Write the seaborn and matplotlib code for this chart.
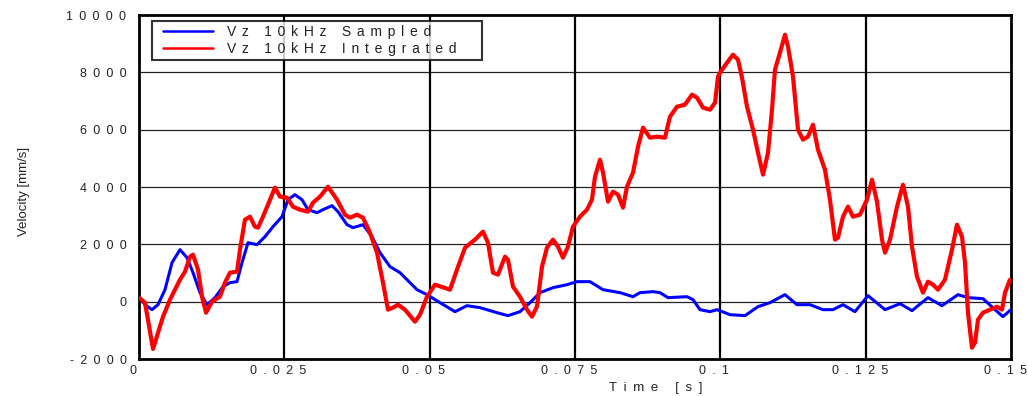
import numpy as np
import pandas as pd
import matplotlib
matplotlib.use("Agg")
import matplotlib.pyplot as plt
import matplotlib.transforms as mtransforms
import seaborn as sns
from matplotlib.lines import Line2D
from matplotlib.legend_handler import HandlerLine2D

# ---- data (time in s, velocity in mm/s) ----
t_int = [0.0, 0.00103, 0.00241, 0.00413, 0.00533, 0.00705, 0.00791, 0.00877, 0.00929, 0.01015,
         0.01084, 0.01153, 0.01256, 0.01393, 0.01479, 0.01565, 0.01686, 0.01737, 0.01823, 0.01909,
         0.01995, 0.02047, 0.02133, 0.02253, 0.02339, 0.02425, 0.02546, 0.02649, 0.02769, 0.02907,
         0.02993, 0.03113, 0.03251, 0.03406, 0.03543, 0.03629, 0.03750, 0.03853, 0.03973, 0.04094,
         0.04197, 0.04283, 0.04369, 0.04455, 0.04575, 0.04747, 0.04834, 0.04954, 0.05092, 0.05350,
         0.05470, 0.05608, 0.05780, 0.05917, 0.06003, 0.06089, 0.06175, 0.06296, 0.06347, 0.06433,
         0.06554, 0.06674, 0.06760, 0.06846, 0.06932, 0.07018, 0.07121, 0.07207, 0.07293, 0.07379,
         0.07465, 0.07586, 0.07706, 0.07792, 0.07844, 0.07930, 0.07982, 0.08068, 0.08154, 0.08240,
         0.08326, 0.08394, 0.08498, 0.08584, 0.08670, 0.08790, 0.08911, 0.09048, 0.09134, 0.09255,
         0.09392, 0.09513, 0.09599, 0.09702, 0.09823, 0.09909, 0.09960, 0.09995, 0.10115, 0.10218,
         0.10304, 0.10373, 0.10459, 0.10562, 0.10648, 0.10734, 0.10820, 0.10889, 0.10940, 0.11026,
         0.11112, 0.11164, 0.11250, 0.11336, 0.11422, 0.11508, 0.11594, 0.11680, 0.11800, 0.11886,
         0.11972, 0.12024, 0.12110, 0.12196, 0.12282, 0.12402, 0.12523, 0.12609, 0.12695, 0.12781,
         0.12833, 0.12919, 0.13039, 0.13142, 0.13228, 0.13297, 0.13383, 0.13486, 0.13572, 0.13658,
         0.13744, 0.13864, 0.13985, 0.14071, 0.14157, 0.14209, 0.14260, 0.14329, 0.14381, 0.14432,
         0.14518, 0.14639, 0.14759, 0.14845, 0.14897, 0.14983]
v_int = [140, -35, -1650, -523, 70, 767, 1046, 1570, 1640, 1116,
         174, -384, 0, 174, 663, 1012, 1046, 1814, 2860, 2965,
         2616, 2581, 2965, 3558, 3977, 3662, 3628, 3314, 3209, 3139,
         3453, 3662, 4011, 3558, 3035, 2930, 3035, 2930, 2407, 1709,
         663, -279, -209, -105, -279, -698, -453, 174, 593, 419,
         1116, 1884, 2163, 2442, 2058, 1012, 942, 1570, 1465, 523,
         174, -279, -523, -174, 1221, 1884, 2163, 1918, 1535, 1918,
         2616, 2965, 3209, 3558, 4360, 4953, 4500, 3488, 3837, 3732,
         3279, 4011, 4500, 5407, 6069, 5721, 5755, 5721, 6453, 6802,
         6872, 7221, 7116, 6767, 6697, 6942, 7849, 7988, 8337, 8616,
         8441, 7813, 6802, 6000, 5197, 4430, 5197, 6697, 8093, 8686,
         9314, 8895, 7849, 6000, 5651, 5756, 6174, 5302, 4604, 3558,
         2163, 2232, 2965, 3314, 2965, 3035, 3558, 4256, 3488, 2163,
         1709, 2163, 3314, 4081, 3314, 1918, 872, 314, 698, 593,
         419, 767, 1814, 2686, 2267, 1360, -384, -1605, -1430, -628,
         -384, -279, -174, -279, 314, 767]

t_smp = [0.0, 0.00103, 0.00224, 0.00327, 0.00447, 0.00568, 0.00705, 0.00826, 0.00929, 0.01049,
         0.01170, 0.01307, 0.01445, 0.01565, 0.01686, 0.01772, 0.01875, 0.02030, 0.02167, 0.02305,
         0.02460, 0.02563, 0.02683, 0.02804, 0.02907, 0.03062, 0.03165, 0.03320, 0.03423, 0.03578,
         0.03681, 0.03853, 0.04008, 0.04146, 0.04318, 0.04490, 0.04610, 0.04782, 0.04954, 0.05178,
         0.05436, 0.05642, 0.05866, 0.06158, 0.06347, 0.06554, 0.06726, 0.06898, 0.07121, 0.07362,
         0.07534, 0.07758, 0.07982, 0.08274, 0.08498, 0.08618, 0.08842, 0.08962, 0.09100, 0.09427,
         0.09530, 0.09650, 0.09823, 0.09943, 0.10166, 0.10424, 0.10648, 0.10854, 0.11112, 0.11319,
         0.11542, 0.11766, 0.11938, 0.12110, 0.12316, 0.12540, 0.12833, 0.13091, 0.13297, 0.13572,
         0.13813, 0.14088, 0.14260, 0.14518, 0.14725, 0.14862, 0.15000]
v_smp = [174, -105, -279, -105, 419, 1360, 1814, 1535, 1012, 314,
         -105, 140, 523, 663, 698, 1360, 2058, 1988, 2267, 2616,
         2965, 3558, 3732, 3558, 3209, 3105, 3209, 3349, 3139, 2686,
         2581, 2686, 2267, 1709, 1221, 1012, 767, 419, 244, -35,
         -349, -140, -209, -384, -488, -349, -35, 314, 488, 593,
         698, 698, 419, 314, 174, 314, 349, 314, 140, 174,
         70, -279, -349, -279, -453, -488, -174, -35, 244, -105,
         -105, -279, -279, -105, -349, 209, -279, -70, -314, 140,
         -140, 244, 140, 105, -279, -523, -279]

series_names = ["Vz 10kHz Sampled", "Vz 10kHz Integrated"]
x_ticks = [0, 0.025, 0.05, 0.075, 0.1, 0.125, 0.15]
x_tick_labels = ["0", "0.025", "0.05", "0.075", "0.1", "0.125", "0.15"]
y_ticks = [-2000, 0, 2000, 4000, 6000, 8000, 10000]
y_tick_labels = ["-2000", "0", "2000", "4000", "6000", "8000", "10000"]
x_label = "Time [s]"
y_label = "Velocity [mm/s]"

EN = "\u2002"
LEG_SEP = "\u2005\u2006"


def spaced(s, sep=EN):
    return sep.join(list(s))


class ShiftedLineHandler(HandlerLine2D):
    def create_artists(self, legend, orig_handle, xdescent, ydescent,
                       width, height, fontsize, trans):
        return super().create_artists(legend, orig_handle, xdescent - 5.0, ydescent,
                                      width, height, fontsize, trans)


df = pd.concat([
    pd.DataFrame({"t": t_smp, "v": v_smp, "series": series_names[0]}),
    pd.DataFrame({"t": t_int, "v": v_int, "series": series_names[1]}),
])

sns.set_style("white")
plt.rcParams["font.family"] = ["Liberation Sans", "DejaVu Sans"]

fig = plt.figure(figsize=(10.28, 3.96), dpi=100)
ax = fig.add_axes([139 / 1028, 1 - 359 / 396, (1011 - 139) / 1028, (359 - 15) / 396])

# grid
for yv in y_ticks[1:-1]:
    ax.axhline(yv, color="#222222", lw=0.9, zorder=1)
for xv in x_ticks[1:-1]:
    ax.axvline(xv, color="black", lw=1.6, zorder=1)

sns.lineplot(data=df, x="t", y="v", hue="series", hue_order=series_names,
             palette=["#0000ff", "#ff0000"], ax=ax, estimator=None, sort=False,
             legend=False, zorder=3)
lines = ax.get_lines()[-2:]
lines[0].set_linewidth(2.2)
lines[1].set_linewidth(3.0)
for ln in lines:
    ln.set_solid_joinstyle("round")

ax.set_xlim(0, 0.15)
ax.set_ylim(-2000, 10000)
ax.set_xticks(x_ticks)
ax.set_xticklabels([spaced(s) for s in x_tick_labels], fontsize=9, color="#222222")
ax.set_yticks(y_ticks)
ax.set_yticklabels([spaced(s) for s in y_tick_labels], fontsize=9, color="#222222")
ax.tick_params(axis="x", length=0, pad=4)
ax.tick_params(axis="y", length=0, pad=9)
shift = mtransforms.ScaledTranslation(-6 / 100, 0, fig.dpi_scale_trans)
for lbl in ax.get_xticklabels():
    lbl.set_transform(lbl.get_transform() + shift)

ax.set_xlabel(spaced(x_label), fontsize=9.5, color="#222222")
ax.xaxis.set_label_coords((656 - 139) / 872, (359 - 382) / 344)
ax.set_ylabel(y_label, fontsize=9.5, color="#222222")
ax.yaxis.set_label_coords((30 - 139) / 872, (359 - 191) / 344)
for sp in ax.spines.values():
    sp.set_color("black")
    sp.set_linewidth(2.0)

handles = [Line2D([], [], color="#0000ff", lw=1.8), Line2D([], [], color="#ff0000", lw=1.8)]
leg = ax.legend(handles, [spaced(n, LEG_SEP) + "\u2003" + EN for n in series_names],
                loc="upper left", bbox_to_anchor=(13 / 872, 1 - 6 / 344),
                frameon=True, fancybox=False, fontsize=10, handlelength=3.6,
                handletextpad=1.5, borderpad=0.3, labelspacing=0.22, borderaxespad=0,
                handler_map={Line2D: ShiftedLineHandler()})
leg.get_frame().set_edgecolor("black")
leg.get_frame().set_linewidth(1.5)
leg.set_zorder(5)
for txt in leg.get_texts():
    txt.set_color("#222222")

fig.savefig("out.png", dpi=100)
